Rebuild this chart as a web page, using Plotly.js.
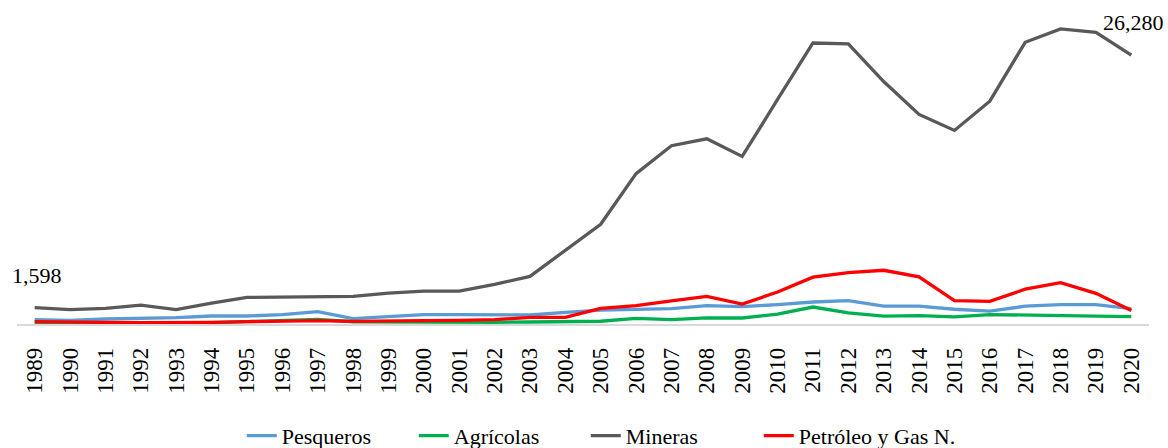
<!DOCTYPE html>
<html>
<head>
<meta charset="utf-8">
<script src="https://cdn.plot.ly/plotly-3.0.1.min.js"></script>
<style>html,body{margin:0;padding:0;background:#fff;}#chart{width:1168px;height:448px;}</style>
</head>
<body>
<div id="chart"></div>
<script>
const years = ["1989","1990","1991","1992","1993","1994","1995","1996","1997","1998","1999","2000","2001","2002","2003","2004","2005","2006","2007","2008","2009","2010","2011","2012","2013","2014","2015","2016","2017","2018","2019","2020"];
const pesqueros = [420,360,490,520,620,780,780,910,1200,520,750,910,910,880,880,1140,1365,1430,1500,1790,1690,1900,2150,2280,1740,1740,1440,1250,1740,1900,1900,1500];
const agricolas = [150,120,100,70,60,120,220,280,450,220,200,160,160,170,195,260,270,540,420,600,585,960,1660,1080,770,810,700,920,850,770,770,715];
const mineras = [1598,1400,1530,1850,1400,2050,2600,2630,2700,2700,3020,3220,3220,3870,4650,7150,9750,14690,17420,18100,16380,21940,27460,27365,23690,20475,18915,21775,27530,28830,28500,26280];
const petroleo = [230,230,160,130,130,160,230,260,325,260,260,325,360,420,650,650,1520,1800,2270,2690,1950,3120,4580,5020,5250,4600,2290,2210,3400,4040,3000,1320];
const seriesNames = ["Pesqueros","Agrícolas","Mineras","Petróleo y Gas N."];
const seriesColors = ["#5B9BD5","#00B050","#595959","#FF0000"];
const seriesData = [pesqueros, agricolas, mineras, petroleo];
const legendWidths = [127, 127, 128, 165];

const FONT = "Liberation Serif, Times New Roman, serif";
const traces = seriesData.map((d, i) => ({
  type: "scatter", mode: "lines", x: years, y: d, name: seriesNames[i],
  line: {color: seriesColors[i], width: 3.3},
  legendwidth: legendWidths[i],
  hoverinfo: "skip"
}));

const fmt = v => v.toLocaleString("en-US");
const last = years.length - 1;
const layout = {
  width: 1168, height: 448,
  margin: {l: 17, r: 19, t: 17, b: 124},
  paper_bgcolor: "#fff", plot_bgcolor: "#fff",
  font: {family: FONT, size: 22, color: "#000"},
  showlegend: true,
  legend: {orientation: "h", xref: "container", yref: "container",
           x: 0.207, xanchor: "left", y: 0.027, yanchor: "middle",
           font: {family: FONT, size: 22, color: "#000"}, tracegroupgap: 0},
  xaxis: {type: "category", range: [-0.5, 31.5], showgrid: false, zeroline: false,
          showline: true, linecolor: "#D9D9D9", linewidth: 1.5, automargin: false,
          ticks: "outside", ticklen: 13, tickcolor: "rgba(0,0,0,0)",
          tickangle: -90, tickfont: {family: FONT, size: 23, color: "#000"}},
  yaxis: {range: [0, 30000], showticklabels: false, showline: false, ticks: "",
          showgrid: false, zeroline: false, fixedrange: true, automargin: false},
  annotations: [
    {x: 0, y: mineras[0], xref: "x", yref: "y", text: fmt(mineras[0]),
     showarrow: false, yanchor: "bottom", yshift: 18, xshift: 2,
     font: {family: FONT, size: 22, color: "#000"}},
    {x: last, y: mineras[last], xref: "x", yref: "y", text: fmt(mineras[last]),
     showarrow: false, yanchor: "bottom", yshift: 18, xshift: 2,
     font: {family: FONT, size: 22, color: "#000"}}
  ]
};
Plotly.newPlot("chart", traces, layout, {displayModeBar: false, staticPlot: true});
</script>
</body>
</html>
